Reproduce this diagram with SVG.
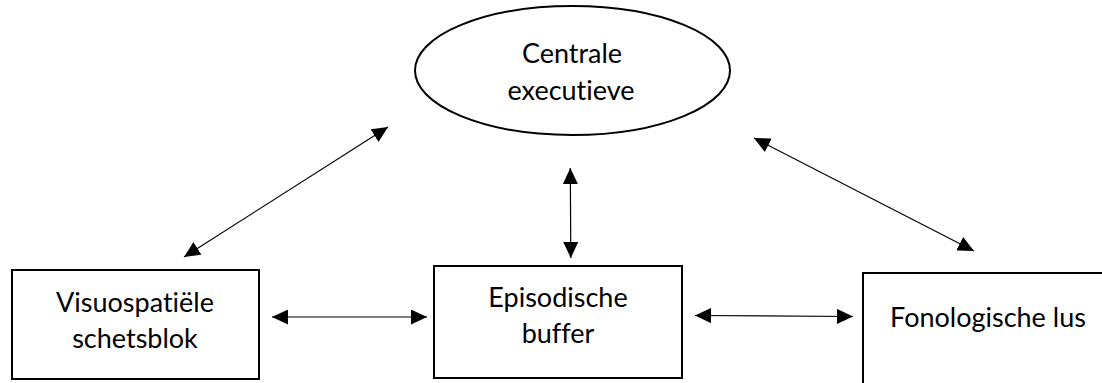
<svg xmlns="http://www.w3.org/2000/svg" width="1102" height="383" viewBox="0 0 1102 383">
  <style>
    .shape { fill: #ffffff; stroke: #000000; stroke-width: 2; }
    .label { font-family: Lato, "Open Sans", "Liberation Sans", sans-serif; font-size: 27px; fill: #000000; text-anchor: middle; font-variant-ligatures: none; font-feature-settings: "liga" 0, "clig" 0; }
    .conn { stroke: #000000; stroke-width: 1.2; fill: none; marker-start: url(#head); marker-end: url(#head); }
  </style>
  <defs>
    <marker id="head" viewBox="0 0 16 15" refX="16" refY="7.5" markerWidth="16" markerHeight="15" markerUnits="userSpaceOnUse" orient="auto-start-reverse">
      <path d="M0,0 L16,7.5 L0,15 Z" fill="#000000"/>
    </marker>
  </defs>
  <rect width="1102" height="383" fill="#ffffff"/>

  <g id="centrale-executieve">
    <ellipse class="shape" cx="572.5" cy="70.5" rx="157.5" ry="64.5"/>
    <text class="label" x="572" y="63">Centrale</text>
    <text class="label" x="571" y="100">executieve</text>
  </g>

  <g id="visuospatiele-schetsblok">
    <rect class="shape" x="12" y="270" width="247" height="109"/>
    <text class="label" x="135" y="312">Visuospatiële</text>
    <text class="label" x="135" y="348">schetsblok</text>
  </g>

  <g id="episodische-buffer">
    <rect class="shape" x="434" y="266" width="248" height="112"/>
    <text class="label" x="558" y="307">Episodische</text>
    <text class="label" x="558" y="343">buffer</text>
  </g>

  <g id="fonologische-lus">
    <rect class="shape" x="863" y="273" width="260" height="130"/>
    <text class="label" x="988" y="327">Fonologische lus</text>
  </g>

  <g id="connectors">
    <line class="conn" x1="388" y1="127" x2="184" y2="257"/>
    <line class="conn" x1="570.3" y1="168" x2="570.8" y2="258"/>
    <line class="conn" x1="754" y1="138" x2="974" y2="251"/>
    <line class="conn" x1="272" y1="317" x2="427" y2="317"/>
    <line class="conn" x1="695" y1="315.5" x2="853" y2="316.5"/>
  </g>
</svg>
